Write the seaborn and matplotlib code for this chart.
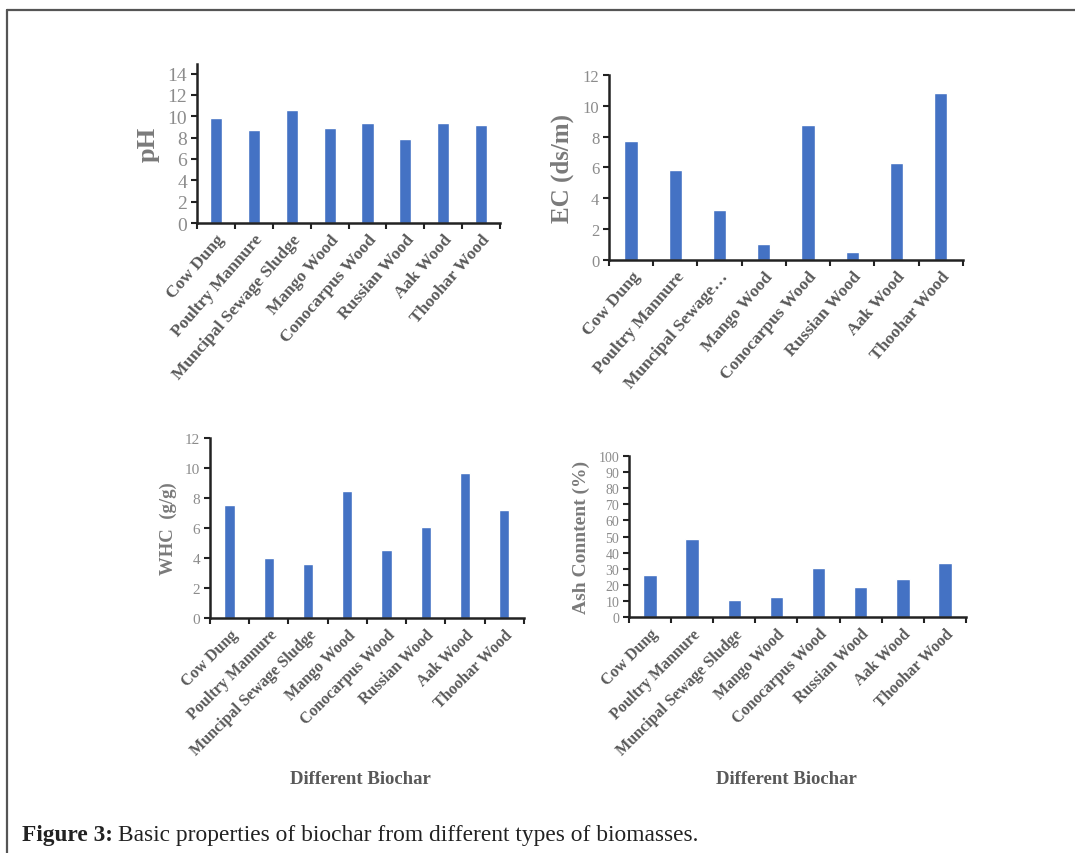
import matplotlib
matplotlib.use("Agg")
import matplotlib.pyplot as plt
import seaborn as sns
import pandas as pd
from matplotlib.lines import Line2D

sns.set_theme(style="white")
plt.rcParams["font.family"] = ["Liberation Serif", "DejaVu Serif"]

biochar = ["Cow Dung", "Poultry Mannure", "Muncipal Sewage Sludge", "Mango Wood",
           "Conocarpus Wood", "Russian Wood", "Aak Wood", "Thoohar Wood"]
biochar_ec = ["Cow Dung", "Poultry Mannure", "Muncipal Sewage…", "Mango Wood",
              "Conocarpus Wood", "Russian Wood", "Aak Wood", "Thoohar Wood"]

ph = [9.8, 8.7, 10.6, 8.9, 9.4, 7.9, 9.4, 9.2]
ec = [7.7, 5.85, 3.25, 1.05, 8.75, 0.55, 6.3, 10.85]
whc = [7.5, 4.0, 3.6, 8.45, 4.5, 6.05, 9.65, 7.2]
ash = [26, 48.5, 10.5, 12.8, 30.5, 19, 23.5, 33.5]

BAR = "#4472C4"
GREY = "#595959"
LABEL_GREY = "#7a7a7a"

fig = plt.figure(figsize=(10.75, 8.54), dpi=100)


def panel(rect, labels, values, ylabel, ymax, step, ytop, width,
          ytick_fs, ylab_fs, xtick_fs, rot):
    ax = fig.add_axes(rect)
    df = pd.DataFrame({"biochar": labels, "value": values})
    sns.barplot(data=df, x="biochar", y="value", color=BAR, saturation=1,
                width=width, ax=ax)
    ax.set_xlim(-0.5, len(labels) - 0.5)
    ax.set_ylim(0, ytop)
    ticks = list(range(0, ymax + 1, step))
    ax.set_yticks(ticks)
    ax.set_yticklabels([str(t) for t in ticks], fontsize=ytick_fs, color="#8c8c8c")
    ax.set_xticks(range(len(labels)))
    ax.set_xticklabels(labels, rotation=rot, ha="right", rotation_mode="anchor",
                       fontsize=xtick_fs, fontweight="bold", color=GREY)
    ax.set_xticks([i - 0.5 for i in range(len(labels) + 1)], minor=True)
    ax.tick_params(axis="x", which="major", length=0, pad=6)
    ax.tick_params(axis="x", which="minor", length=4, width=1.5, color="#222222",
                   direction="out", bottom=True)
    ax.tick_params(axis="y", length=4, width=1.5, color="#222222", direction="out",
                   left=True, pad=3)
    ax.set_xlabel("")
    ax.set_ylabel(ylabel, fontsize=ylab_fs, fontweight="bold", color=LABEL_GREY,
                  labelpad=6)
    for s in ("top", "right"):
        ax.spines[s].set_visible(False)
    for s in ("left", "bottom"):
        ax.spines[s].set_color("#222222")
        ax.spines[s].set_linewidth(1.8)
    return ax


panel([0.1833, 0.7377, 0.2819, 0.1862], biochar, ph, "pH", 14, 2, 14.9, 0.32,
      14, 19, 12.5, 49)
panel([0.5665, 0.6944, 0.3293, 0.2166], biochar_ec, ec, "EC (ds/m)", 12, 2, 12, 0.3,
      12, 18, 12.5, 49)
panel([0.1953, 0.2752, 0.2921, 0.2108], biochar, whc, "WHC  (g/g)", 12, 2, 12, 0.26,
      11, 13.5, 11.5, 45)
panel([0.5851, 0.2760, 0.3135, 0.1892], biochar, ash, "Ash Conntent (%)", 100, 10, 100, 0.32,
      10, 14, 11.5, 45)

fig.text(360 / 1075, 1 - 780 / 854, "Different Biochar", ha="center", va="center",
         fontsize=13.5, fontweight="bold", color=GREY)
fig.text(786 / 1075, 1 - 780 / 854, "Different Biochar", ha="center", va="center",
         fontsize=13.5, fontweight="bold", color=GREY)

# caption: bold lead-in followed by regular text
cap_y = 1 - 836 / 854
t1 = fig.text(22 / 1075, cap_y, "Figure 3:", ha="left", va="center",
              fontsize=16.8, fontweight="bold", color="#222222")
fig.canvas.draw()
bb = t1.get_window_extent()
fig.text((bb.x1 + 5) / 1075, cap_y,
         "Basic properties of biochar from different types of biomasses.",
         ha="left", va="center", fontsize=16.8, color="#222222")

# frame lines around the figure panel
fig.add_artist(Line2D([7 / 1075, 1.0], [1 - 11 / 854, 1 - 11 / 854],
                      color="#555555", lw=1.6, transform=fig.transFigure))
fig.add_artist(Line2D([7 / 1075, 7 / 1075], [0.0, 1 - 11 / 854],
                      color="#555555", lw=1.6, transform=fig.transFigure))

fig.savefig("out.png", dpi=100, facecolor="white")
